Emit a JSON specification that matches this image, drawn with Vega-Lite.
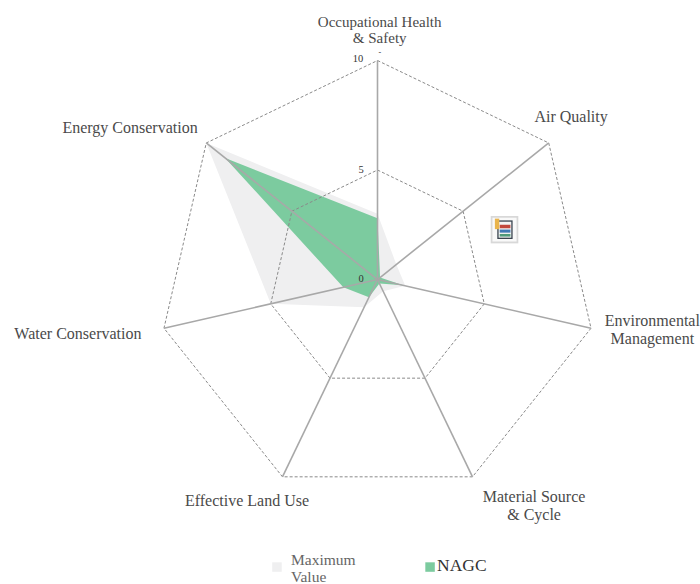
{"$schema":"https://vega.github.io/schema/vega-lite/v6.json","width":700,"height":584,"autosize":{"type":"none"},"padding":0,"background":"white","config":{"view":{"stroke":null}},
"datasets":{
"scores":[
{"series":"Maximum Value","axis":"Occupational Health & Safety","idx":0,"value":3.0},{"series":"Maximum Value","axis":"Air Quality","idx":1,"value":1.1},{"series":"Maximum Value","axis":"Environmental Management","idx":2,"value":1.3},{"series":"Maximum Value","axis":"Material Source & Cycle","idx":3,"value":0.6},{"series":"Maximum Value","axis":"Effective Land Use","idx":4,"value":1.4},{"series":"Maximum Value","axis":"Water Conservation","idx":5,"value":5},{"series":"Maximum Value","axis":"Energy Conservation","idx":6,"value":10},
{"series":"NAGC","axis":"Occupational Health & Safety","idx":0,"value":2.8},{"series":"NAGC","axis":"Air Quality","idx":1,"value":0.15},{"series":"NAGC","axis":"Environmental Management","idx":2,"value":1.2},{"series":"NAGC","axis":"Material Source & Cycle","idx":3,"value":0.2},{"series":"NAGC","axis":"Effective Land Use","idx":4,"value":0.9},{"series":"NAGC","axis":"Water Conservation","idx":5,"value":1.6},{"series":"NAGC","axis":"Energy Conservation","idx":6,"value":8.9}],
"grid":[
{"level":5,"idx":0},{"level":5,"idx":1},{"level":5,"idx":2},{"level":5,"idx":3},{"level":5,"idx":4},{"level":5,"idx":5},{"level":5,"idx":6},
{"level":10,"idx":0},{"level":10,"idx":1},{"level":10,"idx":2},{"level":10,"idx":3},{"level":10,"idx":4},{"level":10,"idx":5},{"level":10,"idx":6}],
"spokes":[{"idx":0,"value":10},{"idx":1,"value":10},{"idx":2,"value":10},{"idx":3,"value":10},{"idx":4,"value":10},{"idx":5,"value":10},{"idx":6,"value":10}],
"labels":[
{"t":"Air Quality","x":8.84,"y":7.4},{"t":"Environmental\nManagement","x":12.55,"y":-1.88},{"t":"Material Source\n& Cycle","x":7.15,"y":-9.93},{"t":"Effective Land Use","x":-5.96,"y":-10.13},{"t":"Water Conservation","x":-13.68,"y":-2.5},{"t":"Energy Conservation","x":-11.3,"y":6.9}],
"labelsTop":[{"t":"Occupational Health\n& Safety","x":0.1,"y":11.76}],
"ticks":[{"t":"10","x":-0.89,"y":10.07},{"t":"5","x":-0.75,"y":5},{"t":"0","x":-0.75,"y":0.02}],
"tickDash":[{"t":"-","x":0.11,"y":10.33}],
"legendText":[{"t":"Maximum\nValue","x":-3.95,"y":-12.82}],
"legendText2":[{"t":"NAGC","x":2.72,"y":-13.08}],
"legendKeys":[{"series":"Maximum Value","x":-4.59,"y":-13.13},{"series":"NAGC","x":2.4,"y":-13.13}],
"icon":[
{"part":"frame","x":5.17,"x2":6.43,"y":2.9,"y2":1.65},
{"part":"inner","x":5.25,"x2":6.35,"y":2.82,"y2":1.73},
{"part":"page","x":5.47,"x2":6.17,"y":2.7,"y2":1.85},
{"part":"sheet","x":5.53,"x2":6.11,"y":2.64,"y2":1.91},
{"part":"red","x":5.58,"x2":6.07,"y":2.5,"y2":2.34},
{"part":"blue","x":5.58,"x2":6.07,"y":2.28,"y2":2.14},
{"part":"green","x":5.58,"x2":6.07,"y":2.08,"y2":1.96},
{"part":"flash","x":5.36,"x2":5.56,"y":2.78,"y2":2.3}]
},
"encoding":{"x":{"field":"x","type":"quantitative","axis":null,"scale":{"domain":[-17.237,14.726],"nice":false,"zero":false}},"y":{"field":"y","type":"quantitative","axis":null,"scale":{"domain":[-13.904,12.763],"nice":false,"zero":false}}},
"resolve":{"scale":{"color":"independent"}},
"layer":[
{"data":{"name":"scores"},"transform":[{"filter":"datum.series==='Maximum Value'"},{"calculate":"datum.value*sin(datum.idx*2*PI/7)","as":"x"},{"calculate":"datum.value*cos(datum.idx*2*PI/7)","as":"y"}],"mark":{"type":"line","interpolate":"linear-closed","fill":"#efeff0","stroke":null},"encoding":{"order":{"field":"idx"}}},
{"data":{"name":"scores"},"transform":[{"filter":"datum.series==='NAGC'"},{"calculate":"datum.value*sin(datum.idx*2*PI/7)","as":"x"},{"calculate":"datum.value*cos(datum.idx*2*PI/7)","as":"y"}],"mark":{"type":"line","interpolate":"linear-closed","fill":"#7ccb9f","stroke":null},"encoding":{"order":{"field":"idx"}}},
{"data":{"name":"grid"},"transform":[{"calculate":"datum.level*sin(datum.idx*2*PI/7)","as":"x"},{"calculate":"datum.level*cos(datum.idx*2*PI/7)","as":"y"}],"mark":{"type":"line","interpolate":"linear-closed","stroke":"#8a8a8a","strokeWidth":1,"strokeDash":[3,2]},"encoding":{"order":{"field":"idx"},"detail":{"field":"level"}}},
{"data":{"name":"spokes"},"transform":[{"calculate":"datum.value*sin(datum.idx*2*PI/7)","as":"x"},{"calculate":"datum.value*cos(datum.idx*2*PI/7)","as":"y"}],"mark":{"type":"rule","stroke":"#a8a8a8","strokeWidth":1.6},"encoding":{"x2":{"datum":0},"y2":{"datum":0}}},
{"data":{"name":"labels"},"mark":{"type":"text","font":"Liberation Serif","fontSize":16,"fill":"#4a4a4a","align":"center","baseline":"middle","lineBreak":"\n","lineHeight":18},"encoding":{"text":{"field":"t"}}},
{"data":{"name":"labelsTop"},"mark":{"type":"text","font":"Liberation Serif","fontSize":15,"fill":"#4a4a4a","align":"center","baseline":"middle","lineBreak":"\n","lineHeight":16},"encoding":{"text":{"field":"t"}}},
{"data":{"name":"ticks"},"mark":{"type":"text","font":"Liberation Serif","fontSize":10.5,"fill":"#333333","align":"center","baseline":"middle"},"encoding":{"text":{"field":"t"}}},
{"data":{"name":"tickDash"},"mark":{"type":"text","font":"Liberation Serif","fontSize":8,"fill":"#333333","align":"center","baseline":"middle"},"encoding":{"text":{"field":"t"}}},
{"data":{"name":"legendText"},"mark":{"type":"text","font":"Liberation Serif","fontSize":15.5,"fill":"#666666","align":"left","baseline":"middle","lineBreak":"\n","lineHeight":17},"encoding":{"text":{"field":"t"}}},
{"data":{"name":"legendText2"},"mark":{"type":"text","font":"Liberation Serif","fontSize":17.5,"fill":"#333333","align":"left","baseline":"middle"},"encoding":{"text":{"field":"t"}}},
{"data":{"name":"legendKeys"},"mark":{"type":"point","shape":"square","filled":true,"size":90,"opacity":1},"encoding":{"color":{"field":"series","type":"nominal","legend":null,"scale":{"domain":["Maximum Value","NAGC"],"range":["#efeff0","#7ccb9f"]}}}},
{"data":{"name":"icon"},"mark":{"type":"rect"},"encoding":{"x2":{"field":"x2"},"y2":{"field":"y2"},"color":{"field":"part","type":"nominal","legend":null,"scale":{"domain":["frame","inner","page","sheet","red","blue","green","flash"],"range":["#d8d8d8","#f9f9f9","#3a4550","#f4f4f4","#c2473c","#3f79b5","#4f9a7a","#e9b44c"]}}}}
]}
